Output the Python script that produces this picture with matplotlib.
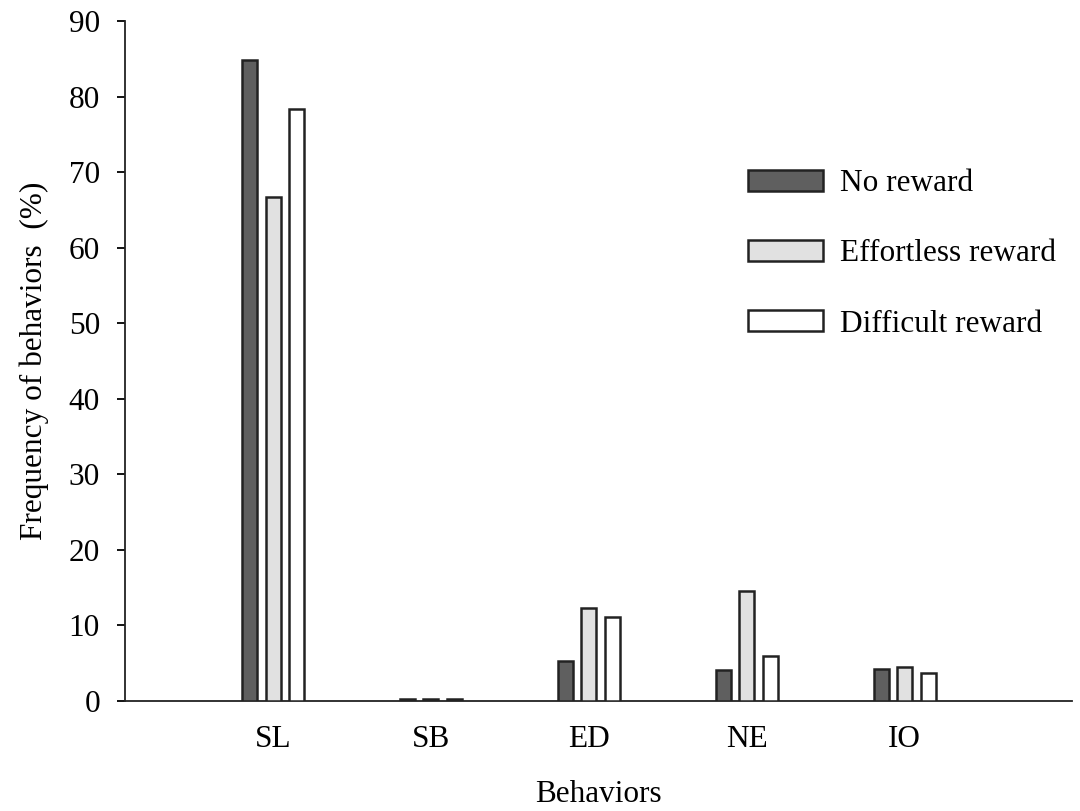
import numpy as np
import matplotlib
matplotlib.use("Agg")
import matplotlib.pyplot as plt

# ── data ───────────────────────────────────────────────────────
behaviors  = ["SL", "SB", "ED", "NE", "IO"]
no_reward  = [84.9, 0.3, 5.3, 4.1, 4.2]
effortless = [66.7, 0.3, 12.3, 14.5, 4.5]
difficult  = [78.3, 0.3, 11.1, 5.9, 3.7]
series_labels = ["No reward", "Effortless reward", "Difficult reward"]
yticks = list(range(0, 100, 10))

plt.rcParams["font.family"] = ["Liberation Serif", "DejaVu Serif"]
FS = 22.5

fig = plt.figure(figsize=(10.8, 8.11), dpi=100)
ax = fig.add_axes([0.1157, 0.1356, 0.877, 0.8384])

x = np.arange(1, len(behaviors) + 1)
w, step = 0.095, 0.149
colors = ["#5f5f5f", "#e1e1e1", "#ffffff"]
for i, (vals, col, lab) in enumerate(zip([no_reward, effortless, difficult], colors, series_labels)):
    ax.bar(x + (i - 1) * step, vals, w, color=col, edgecolor="#222222",
           linewidth=1.8, label=lab, zorder=3)

ax.set_xlim(0.062, 6.06)
ax.set_ylim(0, 90)
ax.set_yticks(yticks)
ax.set_xticks(x)
ax.set_xticklabels(behaviors)
ax.tick_params(axis="y", direction="out", length=6, width=1.3, pad=12, labelsize=FS)
ax.tick_params(axis="x", length=0, pad=17, labelsize=FS)
for sp in ("top", "right"):
    ax.spines[sp].set_visible(False)
for sp in ("left", "bottom"):
    ax.spines[sp].set_linewidth(1.3)
    ax.spines[sp].set_color("#222222")

ax.set_xlabel("Behaviors", fontsize=FS, labelpad=19)
ax.set_ylabel("Frequency of behaviors  (%)", fontsize=FS, labelpad=14)

ax.legend(loc="upper left", bbox_to_anchor=(0.628, 0.8235), frameon=False,
          fontsize=FS, handlelength=2.4, handleheight=0.64, labelspacing=1.32,
          handletextpad=0.54)

plt.savefig("out.png", dpi=100)
